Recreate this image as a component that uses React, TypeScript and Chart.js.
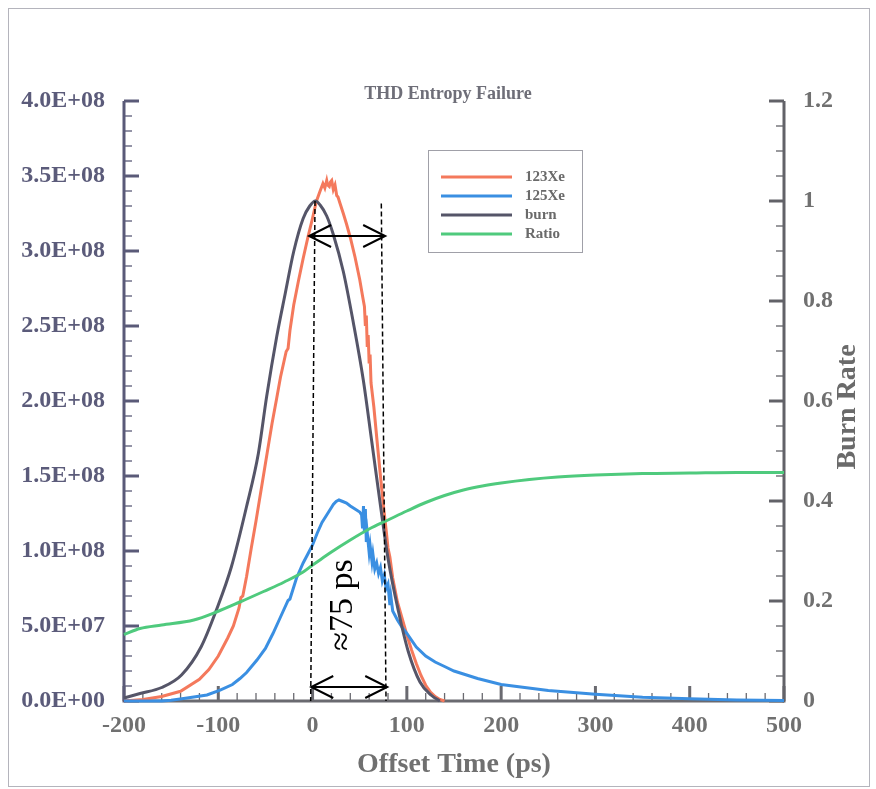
import React, { useEffect, useRef } from 'react';
import { Chart, registerables } from 'chart.js';

Chart.register(...registerables);

const FONT = "'Liberation Serif', 'Times New Roman', Times, serif";

// ---- Data (x = offset time in ps) ----
const xe123Time = [-200, -180, -160, -140, -120, -110, -100, -90, -84, -78, -76, -74, -70, -65, -60, -54, -48, -43, -38, -34, -28, -26, -24, -20, -15, -10, -5, 0, 4, 8, 11, 13, 15, 16, 17.7, 19, 20.3, 22, 23.8, 25.6, 27, 29, 32.6, 36, 40, 45, 50, 53, 55, 56, 57, 58, 59, 60, 61, 62, 65, 68, 70, 72, 75, 78, 80, 82, 85, 90, 95, 100, 105, 110, 115, 120, 125, 130, 135, 140];
const xe123Value = [0, 1.0e6, 3.0e6, 6.5e6, 1.45e7, 2.1e7, 3.0e7, 4.2e7, 5.0e7, 6.2e7, 6.9e7, 7.0e7, 8.3e7, 1.02e8, 1.2e8, 1.43e8, 1.66e8, 1.85e8, 2.02e8, 2.16e8, 2.33e8, 2.35e8, 2.47e8, 2.64e8, 2.8e8, 2.95e8, 3.09e8, 3.22e8, 3.33e8, 3.4e8, 3.45e8, 3.42e8, 3.47e8, 3.44e8, 3.43e8, 3.46e8, 3.47e8, 3.41e8, 3.44e8, 3.37e8, 3.36e8, 3.32e8, 3.25e8, 3.18e8, 3.09e8, 2.96e8, 2.81e8, 2.7e8, 2.63e8, 2.5e8, 2.57e8, 2.36e8, 2.44e8, 2.25e8, 2.31e8, 2.12e8, 1.96e8, 1.76e8, 1.63e8, 1.5e8, 1.31e8, 1.14e8, 1.02e8, 9.6e7, 8.2e7, 6.6e7, 5.5e7, 4.4e7, 3.4e7, 2.5e7, 1.7e7, 1.05e7, 6e6, 3e6, 1e6, 0];

const xe125Time = [-200, -160, -150, -133, -112, -98, -85, -77, -70, -59, -50, -42, -34, -26, -24, -17, -10, -5, 0, 5, 10, 15, 18, 20, 22, 25, 28, 32, 36, 40, 45, 50, 52, 53, 54, 55, 56, 57, 58, 60, 61, 63, 64, 66, 68, 70, 72, 74, 76, 78, 80, 82, 83, 85, 90, 95, 100, 110, 120, 130, 140, 150, 175, 200, 250, 300, 350, 400, 450, 500];
const xe125Value = [0, 0, 5e5, 2e6, 4e6, 7.3e6, 1.1e7, 1.5e7, 1.9e7, 2.73e7, 3.5e7, 4.5e7, 5.6e7, 6.7e7, 6.8e7, 8.2e7, 9.2e7, 9.8e7, 1.04e8, 1.12e8, 1.19e8, 1.24e8, 1.27e8, 1.29e8, 1.31e8, 1.33e8, 1.34e8, 1.33e8, 1.32e8, 1.3e8, 1.28e8, 1.26e8, 1.24e8, 1.15e8, 1.3e8, 1.12e8, 1.28e8, 1.06e8, 1.12e8, 9.9e7, 1.04e8, 9.3e7, 9.8e7, 8.8e7, 9.2e7, 8.5e7, 8.9e7, 8.0e7, 8.4e7, 7.5e7, 7.8e7, 6.4e7, 7.0e7, 6.0e7, 5.4e7, 4.9e7, 4.5e7, 3.6e7, 3.0e7, 2.6e7, 2.3e7, 2.0e7, 1.5e7, 1.1e7, 7e6, 4.5e6, 2.5e6, 1.5e6, 7e5, 3e5];

const burnTime = [-200, -183, -160, -139, -118, -102, -86, -70, -57.5, -48.7, -38, -29, -20, -10, -3, 3, 8, 15, 22, 32.6, 43.2, 53.8, 62.7, 71.5, 80.3, 90.9, 101.5, 113.9, 126.3, 135];
const burnValue = [0.006, 0.015, 0.027, 0.052, 0.109, 0.182, 0.269, 0.389, 0.495, 0.609, 0.729, 0.815, 0.899, 0.965, 0.99, 1.0, 0.992, 0.97, 0.933, 0.859, 0.757, 0.642, 0.52, 0.398, 0.282, 0.181, 0.099, 0.038, 0.011, 0];

const ratioTime = [-200, -183, -160, -126, -102, -77, -52, -30, -10, 0, 10, 20, 40, 60, 80, 100, 120, 140, 160, 180, 200, 230, 260, 300, 350, 400, 450, 500];
const ratioValue = [0.133, 0.145, 0.152, 0.162, 0.178, 0.198, 0.219, 0.238, 0.258, 0.272, 0.285, 0.298, 0.322, 0.344, 0.362, 0.38, 0.397, 0.411, 0.422, 0.43, 0.436, 0.443, 0.448, 0.452, 0.455, 0.456, 0.457, 0.457];

const seriesLabels = ['123Xe', '125Xe', 'burn', 'Ratio'];
const seriesColors = ['#f4795c', '#3a8fe2', '#555568', '#4fca7d'];

// x ticks / y ticks
const xMin = -200, xMax = 500, xStep = 100, xMinor = 20;
const yMin = 0, yMax = 4e8, yStep = 5e7, yMinor = 1e7;
const y1Min = 0, y1Max = 1.2, y1Step = 0.2, y1Minor = 0.05;

// annotation (data coordinates: [time, burn-rate])
const dashLeft = [[2.6, 1.0], [-2, 0]];
const dashRight = [[72.9, 0.995], [77.9, 0]];
const arrowTop = [-3.7, 77, 0.93];
const arrowBottom = [-1.4, 79.2, 0.028];
const noteText = '≈75 ps';
const notePos = [32.3, 0.192];

const fmtSci = (v: number) => {
  if (Math.abs(v) < 1) return '0.0E+00';
  const e = Math.floor(Math.log10(Math.abs(v)) + 1e-9);
  const m = v / Math.pow(10, e);
  return m.toFixed(1) + 'E+' + String(e).padStart(2, '0');
};
const fmtRate = (v: number) => {
  const r = Math.round(v * 10) / 10;
  return r === 0 ? '0' : String(r);
};

const pts = (t: number[], v: number[]) => t.map((x, i) => ({ x, y: v[i] }));

const framePlugin = {
  id: 'frame',
  beforeDraw(chart: any) {
    const { ctx } = chart;
    ctx.save();
    ctx.fillStyle = '#ffffff';
    ctx.fillRect(0, 0, chart.width, chart.height);
    ctx.strokeStyle = '#b4b4bc';
    ctx.lineWidth = 1;
    ctx.strokeRect(8.5, 8.5, 861, 778);
    ctx.restore();
  },
};

const axesPlugin = {
  id: 'axesDraw',
  beforeDatasetsDraw(chart: any) {
    const { ctx, chartArea: a, scales } = chart;
    const sx = scales.x, sy = scales.y, sy1 = scales.y1;
    ctx.save();
    ctx.lineCap = 'butt';
    const vTicks = (scale: any, min: number, max: number, step: number, major: number, xEdge: number, dir: number, color: string) => {
      const n = Math.round((max - min) / step);
      for (let i = 0; i <= n; i++) {
        const v = min + i * step;
        const isMajor = Math.abs(v / major - Math.round(v / major)) < 1e-6;
        const p = scale.getPixelForValue(v);
        ctx.strokeStyle = color;
        ctx.lineWidth = isMajor ? 3 : 1.3;
        ctx.beginPath();
        ctx.moveTo(xEdge, p);
        ctx.lineTo(xEdge + dir * (isMajor ? 15 : 8), p);
        ctx.stroke();
      }
    };
    vTicks(sy, yMin, yMax, yMinor, yStep, a.left, 1, '#5a5a78');
    vTicks(sy1, y1Min, y1Max, y1Minor, y1Step, a.right, -1, '#626268');
    const nx = Math.round((xMax - xMin) / xMinor);
    for (let i = 0; i <= nx; i++) {
      const v = xMin + i * xMinor;
      const isMajor = Math.abs(v / xStep - Math.round(v / xStep)) < 1e-6;
      const p = sx.getPixelForValue(v);
      ctx.strokeStyle = '#6a6a70';
      ctx.lineWidth = isMajor ? 3 : 1.3;
      ctx.beginPath();
      ctx.moveTo(p, a.bottom);
      ctx.lineTo(p, a.bottom - (isMajor ? 15 : 8));
      ctx.stroke();
    }
    ctx.lineWidth = 3;
    ctx.strokeStyle = '#5a5a78';
    ctx.beginPath(); ctx.moveTo(a.left, a.top); ctx.lineTo(a.left, a.bottom + 1.5); ctx.stroke();
    ctx.strokeStyle = '#626268';
    ctx.beginPath(); ctx.moveTo(a.right, a.top); ctx.lineTo(a.right, a.bottom + 1.5); ctx.stroke();
    ctx.strokeStyle = '#6a6a70';
    ctx.beginPath(); ctx.moveTo(a.left, a.bottom); ctx.lineTo(a.right, a.bottom); ctx.stroke();
    ctx.restore();
  },
};

const overlayPlugin = {
  id: 'overlay',
  afterDatasetsDraw(chart: any) {
    const { ctx, scales } = chart;
    const px = (t: number) => scales.x.getPixelForValue(t);
    const py = (v: number) => scales.y1.getPixelForValue(v);
    ctx.save();
    ctx.strokeStyle = '#000';
    ctx.lineWidth = 1.5;
    ctx.setLineDash([5, 3]);
    for (const d of [dashLeft, dashRight]) {
      ctx.beginPath();
      ctx.moveTo(px(d[0][0]), py(d[0][1]));
      ctx.lineTo(px(d[1][0]), py(d[1][1]));
      ctx.stroke();
    }
    ctx.setLineDash([]);
    ctx.lineWidth = 2;
    const arrow = (a: number[]) => {
      const x1 = px(a[0]), x2 = px(a[1]), y = py(a[2]);
      ctx.beginPath();
      ctx.moveTo(x1, y); ctx.lineTo(x2, y);
      ctx.moveTo(x1 + 22, y - 11); ctx.lineTo(x1, y); ctx.lineTo(x1 + 22, y + 11);
      ctx.moveTo(x2 - 22, y - 11); ctx.lineTo(x2, y); ctx.lineTo(x2 - 22, y + 11);
      ctx.stroke();
    };
    arrow(arrowTop);
    arrow(arrowBottom);
    ctx.translate(px(notePos[0]), py(notePos[1]));
    ctx.rotate(-Math.PI / 2);
    ctx.fillStyle = '#000';
    ctx.font = `34px ${FONT}`;
    ctx.textAlign = 'center';
    ctx.textBaseline = 'middle';
    ctx.fillText(noteText, 0, 0);
    ctx.restore();
  },
  afterDraw(chart: any) {
    const { ctx, chartArea: a } = chart;
    ctx.save();
    ctx.fillStyle = '#6e6e78';
    ctx.font = `bold 18px ${FONT}`;
    ctx.textAlign = 'center';
    ctx.textBaseline = 'middle';
    ctx.fillText('THD Entropy Failure', 448, 94);
    ctx.translate(848, (a.top + a.bottom) / 2 + 6);
    ctx.rotate(-Math.PI / 2);
    ctx.fillStyle = '#6a6a6a';
    ctx.font = `bold 28px ${FONT}`;
    ctx.fillText('Burn Rate', 0, 0);
    ctx.restore();

    ctx.save();
    ctx.strokeStyle = '#a0a0a8';
    ctx.lineWidth = 1;
    ctx.strokeRect(428.5, 150.5, 154, 102);
    ctx.font = `bold 15px ${FONT}`;
    ctx.textBaseline = 'middle';
    ctx.textAlign = 'left';
    chart.data.datasets.forEach((ds: any, i: number) => {
      const y = 177 + i * 19;
      ctx.strokeStyle = ds.borderColor;
      ctx.lineWidth = 3;
      ctx.beginPath(); ctx.moveTo(441, y); ctx.lineTo(512, y); ctx.stroke();
      ctx.fillStyle = '#6a6a6a';
      ctx.fillText(ds.label, 525, y);
    });
    ctx.restore();
  },
};

export default function App() {
  const ref = useRef<HTMLCanvasElement>(null);
  useEffect(() => {
    const canvas = ref.current!;
    const tickFont = { family: FONT, size: 24, weight: 'bold' as const };
    const chart = new Chart(canvas, {
      type: 'line',
      data: {
        datasets: [
          { label: seriesLabels[0], data: pts(xe123Time, xe123Value), yAxisID: 'y', borderColor: seriesColors[0], borderWidth: 3, pointRadius: 0, tension: 0, clip: 8, order: 4 },
          { label: seriesLabels[1], data: pts(xe125Time, xe125Value), yAxisID: 'y', borderColor: seriesColors[1], borderWidth: 3, pointRadius: 0, tension: 0, clip: 8, order: 3 },
          { label: seriesLabels[2], data: pts(burnTime, burnValue), yAxisID: 'y1', borderColor: seriesColors[2], borderWidth: 3, pointRadius: 0, cubicInterpolationMode: 'monotone', clip: 8, order: 2 },
          { label: seriesLabels[3], data: pts(ratioTime, ratioValue), yAxisID: 'y1', borderColor: seriesColors[3], borderWidth: 3, pointRadius: 0, cubicInterpolationMode: 'monotone', clip: 8, order: 1 },
        ] as any,
      },
      options: {
        animation: false,
        responsive: false,
        devicePixelRatio: 1,
        layout: { padding: { top: 101, left: 0, right: 0, bottom: 0 } },
        plugins: { legend: { display: false }, title: { display: false }, tooltip: { enabled: false } },
        scales: {
          x: {
            type: 'linear', position: 'bottom', min: xMin, max: xMax,
            afterFit: (s: any) => { s.height = 88; },
            grid: { display: false }, border: { display: false },
            ticks: { stepSize: xStep, autoSkip: false, maxRotation: 0, padding: 2, color: '#707070', font: tickFont, callback: (v: any) => String(v) },
            title: { display: true, text: 'Offset Time (ps)', color: '#707070', font: { family: FONT, size: 28, weight: 'bold' }, padding: { top: 0, bottom: 7 } },
          },
          y: {
            type: 'linear', position: 'left', min: yMin, max: yMax,
            afterFit: (s: any) => { s.width = 124; },
            grid: { display: false }, border: { display: false },
            ticks: { stepSize: yStep, autoSkip: false, padding: 11, color: '#5b5b7a', font: tickFont, callback: (v: any) => fmtSci(Number(v)) },
          },
          y1: {
            type: 'linear', position: 'right', min: y1Min, max: y1Max,
            afterFit: (s: any) => { s.width = 92; },
            grid: { display: false }, border: { display: false },
            ticks: { stepSize: y1Step, autoSkip: false, padding: 11, color: '#707070', font: tickFont, callback: (v: any) => fmtRate(Number(v)) },
          },
        },
      } as any,
      plugins: [framePlugin, axesPlugin, overlayPlugin],
    });
    return () => chart.destroy();
  }, []);
  return (
    <div style={{ position: 'absolute', left: 0, top: 0, width: 876, height: 789, background: '#fff' }}>
      <canvas ref={ref} width={876} height={789} style={{ display: 'block', width: 876, height: 789 }} />
    </div>
  );
}
